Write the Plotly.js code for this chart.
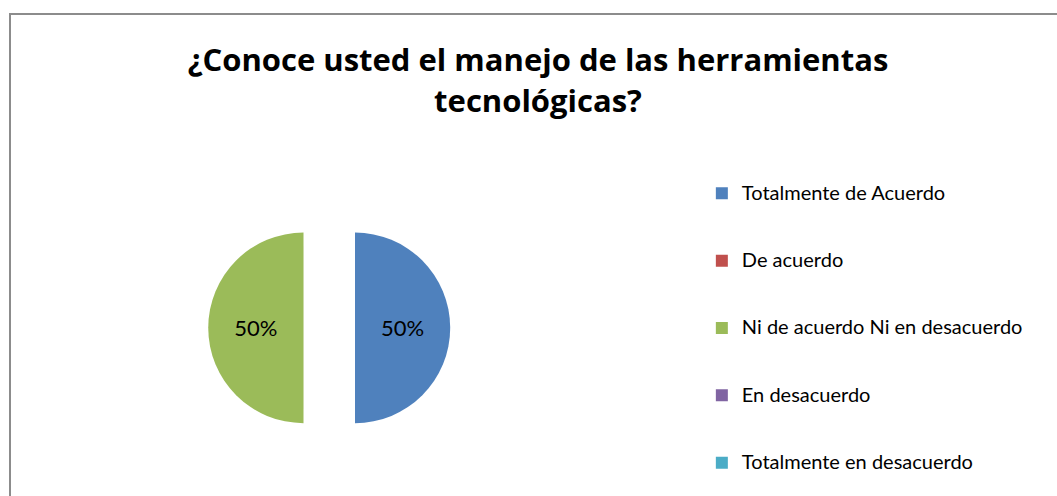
<!DOCTYPE html>
<html>
<head>
<meta charset="utf-8">
<script src="https://cdn.plot.ly/plotly-3.0.1.min.js"></script>
<style>
  html, body { margin: 0; padding: 0; background: #fff; overflow: hidden; }
  #wrap { position: relative; width: 1057px; height: 496px; overflow: hidden; }
  #chart { width: 1057px; height: 496px; }
  #frame { position: absolute; left: 9px; top: 13px; width: 1100px; height: 600px;
           border: 2px solid #8c8c8c; pointer-events: none; box-sizing: border-box; }
</style>
</head>
<body>
<div id="wrap">
  <div id="chart"></div>
  <div id="frame"></div>
</div>
<script>
const chartTitle = '¿Conoce usted el manejo de las herramientas<br>tecnológicas?';
const categories = ['Totalmente de Acuerdo', 'De acuerdo', 'Ni de acuerdo Ni en desacuerdo', 'En desacuerdo', 'Totalmente en desacuerdo'];
const values = [50, 0, 50, 0, 0];
const colors = ['#4F81BD', '#C0504D', '#9BBB59', '#8064A2', '#4BACC6'];

// Legend labels: larger visible text, padded with blank lines for the wide spacing
const legendLabels = categories.map((c, i) =>
  '<span style="font-size:20px">' + c + '</span>' + (i < categories.length - 1 ? '<br> <br> ' : ''));

const trace = {
  type: 'pie',
  labels: legendLabels,
  values: values,
  sort: false,
  direction: 'clockwise',
  rotation: 0,
  pull: values.map(v => v > 0 ? 0.27 : 0),
  marker: { colors: colors, line: { color: '#ffffff', width: 0 } },
  textinfo: 'percent',
  texttemplate: '%{percent:.0%}',
  textposition: 'inside',
  insidetextorientation: 'horizontal',
  textfont: { family: 'Lato, "Open Sans", sans-serif', size: 22, color: '#000' },
  hoverinfo: 'none',
  domain: { x: [0.197, 0.426], y: [0.095, 0.583] }
};

const layout = {
  width: 1057, height: 496,
  margin: { l: 0, r: 0, t: 0, b: 0 },
  paper_bgcolor: '#fff',
  font: { family: 'Lato, "Open Sans", sans-serif', color: '#000' },
  title: {
    text: '<b>' + chartTitle + '</b>',
    font: { family: '"Open Sans", Lato, sans-serif', size: 31, color: '#000' },
    x: 0.509, xanchor: 'center',
    y: 0.856, yanchor: 'top', yref: 'container'
  },
  showlegend: true,
  legend: {
    x: 0.664, xanchor: 'left',
    y: 0.645, yanchor: 'top',
    valign: 'top',
    font: { family: 'Lato, "Open Sans", sans-serif', size: 16.5, color: '#000' },
    traceorder: 'normal',
    itemclick: false
  }
};

Plotly.newPlot('chart', [trace], layout, { displayModeBar: false, staticPlot: true });
</script>
</body>
</html>
